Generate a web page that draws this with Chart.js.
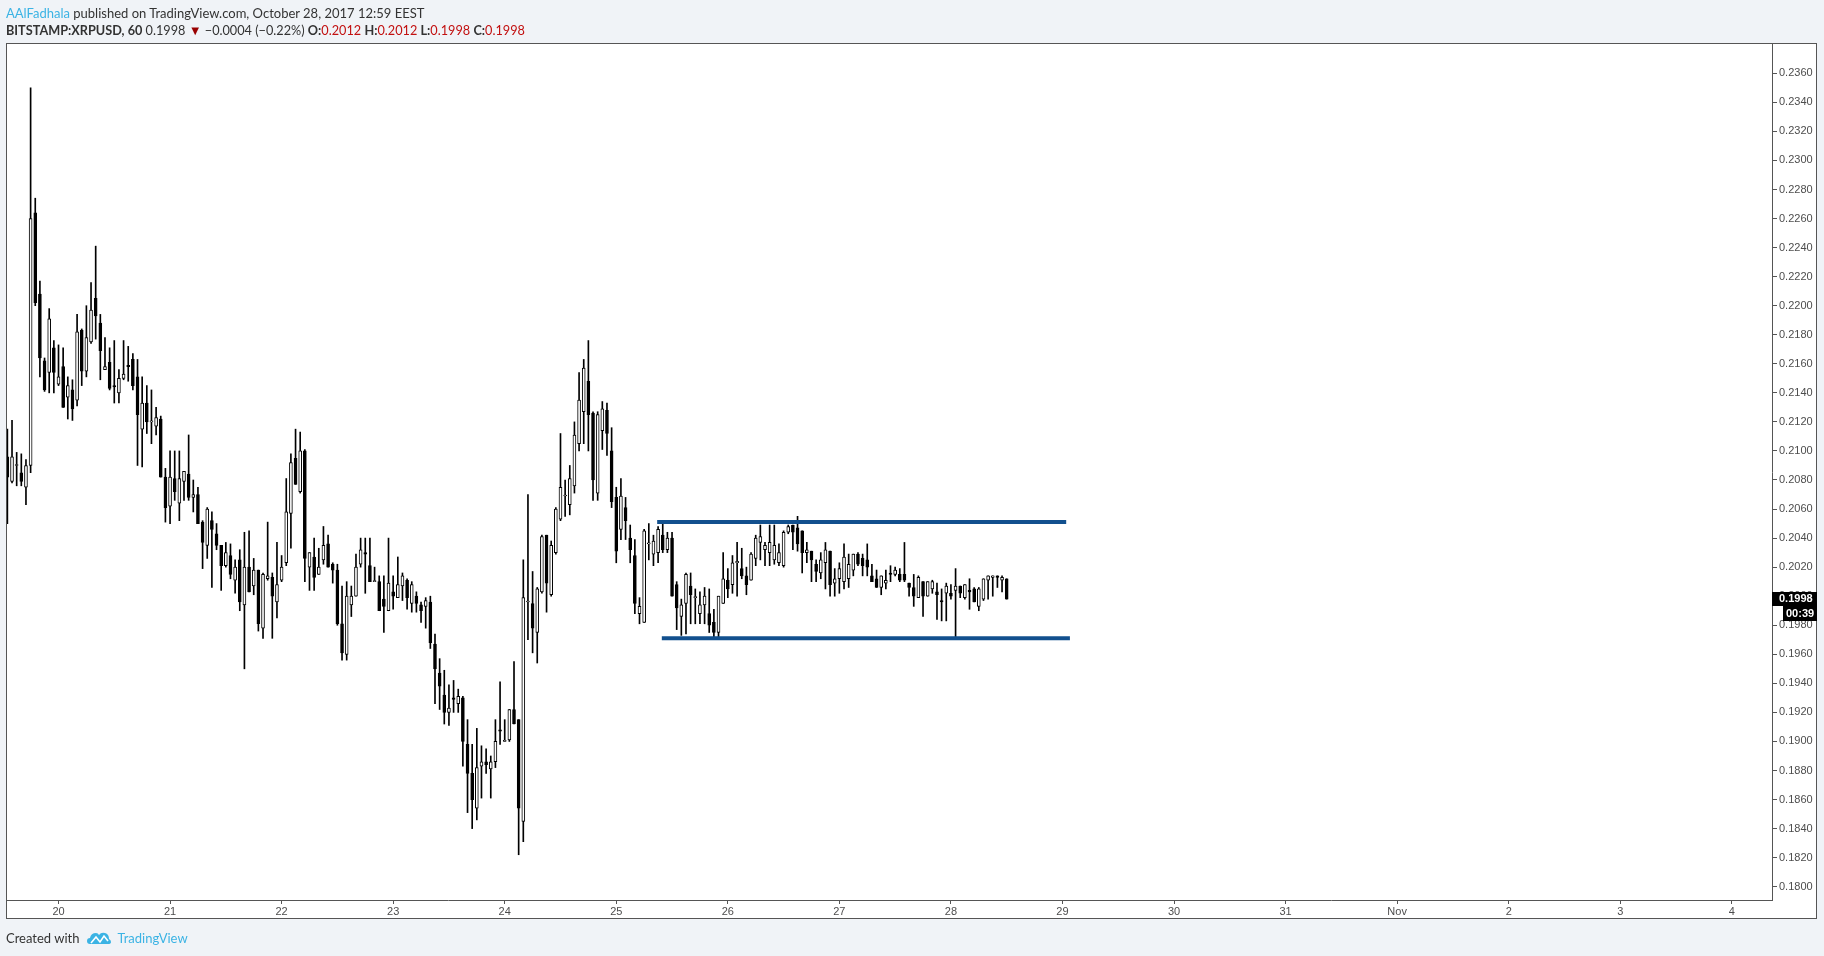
<!DOCTYPE html>
<html>
<head>
<meta charset="utf-8">
<script src="https://cdn.jsdelivr.net/npm/chart.js@4.4.0/dist/chart.umd.min.js"></script>
<style>
  html, body { margin: 0; padding: 0; background: #f0f3f7; }
  body { width: 1824px; height: 956px; position: relative; overflow: hidden; font-family: Lato, "Open Sans", sans-serif; }
  #chart { position: absolute; left: 0; top: 0; }
  .txt { position: absolute; left: 6px; font-size: 13px; line-height: 16px; color: #333; white-space: nowrap; }
  .blue { color: #3bb3e4; }
  .red { color: #c21010; }
  .tri { color: #990000; font-size: 13px; }
  #l1 { top: 5px; }
  #l2 { top: 22px; font-size: 12.7px; }
  #foot { top: 930px; display: flex; align-items: center; }
  #foot svg { margin: 0 6px 0 8px; }
</style>
</head>
<body>
<canvas id="chart" width="1824" height="956"></canvas>
<div class="txt" id="l1"><span class="blue">AAlFadhala</span> published on TradingView.com, October 28, 2017 12:59 EEST</div>
<div class="txt" id="l2"><b>BITSTAMP:XRPUSD, 60</b> 0.1998 <span class="tri">▼</span> −0.0004 (−0.22%) <b>O:</b><span class="red">0.2012</span> <b>H:</b><span class="red">0.2012</span> <b>L:</b><span class="red">0.1998</span> <b>C:</b><span class="red">0.1998</span></div>
<div class="txt" id="foot">Created with
  <svg width="24" height="15" viewBox="0 0 24 15">
    <path d="M3 13 Q0 13 0 10 Q0 7 3 7 Q4 2 9 2 Q11 2 12 4 Q14 1 18 2 Q22 3 22 8 Q24 9 24 11 Q24 13 21 13 Z" fill="#3bb3e4"/>
    <polyline points="4,12 9,6 13,11 17,5 21,10" fill="none" stroke="#fff" stroke-width="1.6"/>
  </svg>
  <span class="blue">TradingView</span></div>
<script>
// hourly candles, hour 0 = Oct 20 00:00
const firstHour = -11;

const open = [
  0.2096,0.2079,0.2090,0.2085,0.2075,0.2090,0.2264,0.2208,0.2162,0.2154,0.2171,0.2146,
  0.2158,0.2137,0.2142,0.2135,0.2183,0.2155,0.2175,0.2205,0.2188,0.2156,0.2161,0.2145,
  0.2140,0.2150,0.2159,0.2163,0.2151,0.2115,0.2133,0.2120,0.2117,0.2122,0.2082,0.2062,
  0.2081,0.2064,0.2079,0.2084,0.2068,0.2070,0.2051,0.2035,0.2052,0.2043,0.2035,0.2021,
  0.2028,0.2011,0.2025,0.1994,0.2020,0.2007,0.2018,0.1978,0.2012,0.2013,0.1996,0.2011,
  0.2023,0.2057,0.2095,0.2072,0.2100,0.2020,0.2027,0.2015,0.2025,0.2036,0.2022,0.2018,
  0.1981,0.1960,0.1994,0.2000,0.2022,0.2030,0.2021,0.2010,0.2010,0.1998,0.1990,0.2003,
  0.1999,0.2007,0.2011,0.1995,0.2000,0.1994,0.1993,0.1996,0.1967,0.1947,0.1932,0.1920,
  0.1930,0.1926,0.1930,0.1898,0.1878,0.1854,0.1883,0.1886,0.1881,0.1886,0.1908,0.1900,
  0.1901,0.1922,0.1915,0.1845,0.1996,0.1995,0.1975,0.2003,0.2042,0.2001,0.2030,0.2053,
  0.2069,0.2063,0.2076,0.2105,0.2127,0.2148,0.2126,0.2071,0.2114,0.2128,0.2100,0.2068,
  0.2046,0.2061,0.2040,0.2028,0.1988,0.1982,0.2036,0.2029,0.2030,0.2042,0.2032,0.2040,
  0.2008,0.1986,0.1995,0.2007,0.1999,0.1988,0.1994,0.1988,0.1982,0.1975,0.1995,0.2011,
  0.2008,0.2023,0.2019,0.2014,0.2011,0.2026,0.2037,0.2032,0.2030,0.2025,0.2023,0.2021,
  0.2044,0.2049,0.2047,0.2045,0.2030,0.2031,0.2022,0.2016,0.2023,0.2031,0.2009,0.2012,
  0.2010,0.2012,0.2018,0.2029,0.2026,0.2025,0.2014,0.2012,0.2006,0.2009,0.2016,0.2015,
  0.2015,0.2015,0.2009,0.2006,0.1999,0.2010,0.2000,0.2005,0.2003,0.1997,0.2002,0.2002,
  0.2004,0.2007,0.1999,0.2004,0.2005,0.1993,0.1998,0.2011,0.2013,0.2014,0.2011,0.2012
];
const high = [
  0.2115,0.2121,0.2099,0.2098,0.2094,0.2350,0.2274,0.2217,0.2164,0.2198,0.2176,0.2173,
  0.2171,0.2151,0.2149,0.2194,0.2184,0.2200,0.2216,0.2241,0.2194,0.2178,0.2171,0.2176,
  0.2156,0.2176,0.2172,0.2167,0.2163,0.2151,0.2145,0.2142,0.2130,0.2124,0.2088,0.2100,
  0.2100,0.2100,0.2086,0.2111,0.2080,0.2075,0.2052,0.2061,0.2058,0.2050,0.2035,0.2037,
  0.2036,0.2025,0.2032,0.2044,0.2045,0.2026,0.2018,0.2016,0.2051,0.2016,0.2037,0.2028,
  0.2081,0.2098,0.2115,0.2113,0.2101,0.2030,0.2040,0.2033,0.2048,0.2042,0.2023,0.2022,
  0.2007,0.2010,0.2007,0.2029,0.2040,0.2040,0.2040,0.2020,0.2014,0.2014,0.2040,0.2014,
  0.2027,0.2016,0.2012,0.2010,0.2003,0.1996,0.1999,0.2000,0.1974,0.1957,0.1949,0.1939,
  0.1942,0.1936,0.1931,0.1915,0.1898,0.1909,0.1897,0.1895,0.1890,0.1915,0.1941,0.1915,
  0.1922,0.1955,0.1915,0.2025,0.2070,0.2017,0.2006,0.2042,0.2042,0.2038,0.2061,0.2112,
  0.2080,0.2090,0.2120,0.2154,0.2163,0.2176,0.2127,0.2127,0.2134,0.2133,0.2116,0.2075,
  0.2081,0.2068,0.2049,0.2039,0.1999,0.2046,0.2050,0.2042,0.2048,0.2050,0.2044,0.2044,
  0.2010,0.1998,0.2016,0.2016,0.2005,0.2003,0.2006,0.2005,0.1991,0.2000,0.2030,0.2019,
  0.2028,0.2037,0.2033,0.2020,0.2030,0.2042,0.2049,0.2037,0.2049,0.2049,0.2036,0.2045,
  0.2049,0.2049,0.2055,0.2045,0.2037,0.2031,0.2025,0.2030,0.2037,0.2031,0.2019,0.2023,
  0.2036,0.2029,0.2029,0.2030,0.2029,0.2036,0.2022,0.2018,0.2014,0.2018,0.2021,0.2020,
  0.2019,0.2037,0.2009,0.2015,0.2014,0.2010,0.2010,0.2011,0.2009,0.2005,0.2009,0.2008,
  0.2019,0.2007,0.2008,0.2012,0.2006,0.2006,0.2012,0.2014,0.2014,0.2014,0.2014,0.2012
];
const low = [
  0.2050,0.2078,0.2076,0.2076,0.2063,0.2085,0.2200,0.2151,0.2141,0.2140,0.2140,0.2145,
  0.2130,0.2122,0.2121,0.2131,0.2145,0.2151,0.2174,0.2177,0.2149,0.2156,0.2142,0.2133,
  0.2133,0.2149,0.2148,0.2142,0.2090,0.2089,0.2112,0.2105,0.2111,0.2082,0.2051,0.2050,
  0.2066,0.2052,0.2066,0.2066,0.2058,0.2050,0.2019,0.2026,0.2006,0.2032,0.2004,0.2020,
  0.2012,0.2002,0.1990,0.1950,0.2003,0.2001,0.1976,0.1971,0.2011,0.1971,0.1985,0.2010,
  0.2021,0.2033,0.2077,0.2071,0.2010,0.2004,0.2004,0.2015,0.2022,0.2020,0.2009,0.1980,
  0.1956,0.1956,0.1986,0.2000,0.2020,0.2002,0.2010,0.2010,0.1990,0.1975,0.1990,0.1991,
  0.1999,0.1997,0.1991,0.1989,0.1989,0.1982,0.1978,0.1964,0.1926,0.1922,0.1912,0.1911,
  0.1920,0.1920,0.1883,0.1851,0.1840,0.1846,0.1861,0.1878,0.1861,0.1882,0.1898,0.1900,
  0.1900,0.1912,0.1822,0.1831,0.1970,0.1961,0.1954,0.2002,0.1989,0.2000,0.2029,0.2052,
  0.2055,0.2056,0.2071,0.2100,0.2105,0.2100,0.2066,0.2066,0.2101,0.2097,0.2061,0.2023,
  0.2039,0.2039,0.2023,0.1988,0.1981,0.1982,0.2025,0.2021,0.2023,0.2030,0.2030,0.2000,
  0.1977,0.1973,0.1974,0.1981,0.1981,0.1981,0.1981,0.1975,0.1972,0.1972,0.1995,0.1999,
  0.2002,0.2000,0.2012,0.2001,0.2011,0.2021,0.2025,0.2021,0.2021,0.2022,0.2021,0.2020,
  0.2043,0.2032,0.2031,0.2016,0.2023,0.2010,0.2010,0.2012,0.2005,0.2000,0.2000,0.2002,
  0.2005,0.2006,0.2014,0.2021,0.2014,0.2014,0.2010,0.2006,0.2001,0.2005,0.2010,0.2014,
  0.2010,0.2010,0.2000,0.1993,0.1999,0.1986,0.2000,0.2002,0.1984,0.1983,0.1983,0.1998,
  0.1972,0.1999,0.1998,0.1991,0.1996,0.1990,0.1997,0.1998,0.2000,0.2006,0.2003,0.1998
];
const close = [
  0.2082,0.2096,0.2090,0.2079,0.2090,0.2260,0.2202,0.2164,0.2142,0.2191,0.2154,0.2151,
  0.2130,0.2145,0.2129,0.2182,0.2155,0.2178,0.2197,0.2193,0.2169,0.2158,0.2143,0.2144,
  0.2150,0.2153,0.2158,0.2145,0.2125,0.2133,0.2120,0.2120,0.2123,0.2082,0.2061,0.2082,
  0.2072,0.2081,0.2086,0.2068,0.2070,0.2050,0.2037,0.2060,0.2046,0.2035,0.2021,0.2030,
  0.2015,0.2020,0.1996,0.2020,0.2003,0.2018,0.1981,0.2015,0.2014,0.2000,0.2008,0.2020,
  0.2058,0.2092,0.2077,0.2100,0.2026,0.2030,0.2013,0.2020,0.2035,0.2020,0.2018,0.1981,
  0.1961,0.2000,0.2000,0.2020,0.2032,0.2029,0.2010,0.2010,0.1990,0.1993,0.2009,0.2000,
  0.2008,0.2014,0.1999,0.2008,0.1995,0.1990,0.1997,0.1968,0.1950,0.1938,0.1920,0.1923,
  0.1929,0.1931,0.1900,0.1878,0.1860,0.1882,0.1886,0.1884,0.1886,0.1900,0.1907,0.1900,
  0.1922,0.1912,0.1854,0.1999,0.1996,0.1978,0.2005,0.2041,0.2009,0.2035,0.2060,0.2075,
  0.2069,0.2081,0.2111,0.2135,0.2157,0.2125,0.2080,0.2125,0.2129,0.2112,0.2065,0.2031,
  0.2069,0.2052,0.2032,0.1995,0.1993,0.2045,0.2036,0.2038,0.2046,0.2032,0.2040,0.2000,
  0.1992,0.1994,0.2015,0.2001,0.1999,0.1994,0.2000,0.1980,0.1975,0.2000,0.2012,0.2005,
  0.2023,0.2024,0.2014,0.2008,0.2029,0.2040,0.2041,0.2035,0.2037,0.2035,0.2030,0.2044,
  0.2048,0.2044,0.2036,0.2030,0.2032,0.2025,0.2017,0.2025,0.2032,0.2008,0.2012,0.2019,
  0.2027,0.2022,0.2029,0.2022,0.2021,0.2020,0.2010,0.2006,0.2014,0.2011,0.2015,0.2018,
  0.2011,0.2011,0.2006,0.2000,0.2013,0.2000,0.2010,0.2010,0.2001,0.1996,0.2007,0.2000,
  0.2007,0.2002,0.2008,0.2003,0.1996,0.2005,0.2012,0.2014,0.2014,0.2013,0.2013,0.1998
];

const dayLabels = ["20","21","22","23","24","25","26","27","28","29","30","31","Nov","2","3","4"];
const priceTicks = [
  0.1800,0.1820,0.1840,0.1860,0.1880,0.1900,0.1920,0.1940,0.1960,0.1980,
  0.2000,0.2020,0.2040,0.2060,0.2080,0.2100,0.2120,0.2140,0.2160,0.2180,
  0.2200,0.2220,0.2240,0.2260,0.2280,0.2300,0.2320,0.2340,0.2360
];

// drawn channel (hour, price)
const channelTop = [[128.8, 0.2051], [216.8, 0.2051]];
const channelBottom = [[129.8, 0.1971], [217.6, 0.1971]];
const countdown = "00:39";

const hours = open.map((_, i) => firstHour + i);
const isUp = i => close[i] >= open[i];

const frame = {
  id: "frame",
  beforeDraw(chart) {
    const ctx = chart.ctx;
    ctx.save();
    ctx.fillStyle = "#fff";
    ctx.fillRect(6, 43, 1811, 876);
    ctx.restore();
  },
  afterDraw(chart) {
    const ctx = chart.ctx;
    const y = chart.scales.y.getPixelForValue(close[close.length - 1]);
    ctx.save();
    ctx.strokeStyle = "#555";
    ctx.lineWidth = 1;
    ctx.strokeRect(6.5, 43.5, 1810, 875);
    ctx.fillStyle = "#000";
    ctx.fillRect(1772, Math.round(y) - 7, 45, 14);
    ctx.fillRect(1783, Math.round(y) + 7, 34, 15);
    ctx.fillStyle = "#fff";
    ctx.font = "bold 11px 'Liberation Sans', Arial, sans-serif";
    ctx.textBaseline = "middle";
    ctx.fillText(close[close.length - 1].toFixed(4), 1779, Math.round(y));
    ctx.fillText(countdown, 1786, Math.round(y) + 15);
    ctx.restore();
  }
};

const tickFont = { family: "'Liberation Sans', Arial, sans-serif", size: 11 };

new Chart(document.getElementById("chart"), {
  data: {
    datasets: [
      {
        type: "bar",
        data: hours.map((h, i) => ({ x: h, y: [low[i], high[i]] })),
        backgroundColor: "#000",
        barThickness: 1,
        minBarLength: 1,
        grouped: false,
        order: 2,
        clip: 0,
      },
      {
        type: "bar",
        data: hours.map((h, i) => ({ x: h, y: [Math.min(open[i], close[i]), Math.max(open[i], close[i])] })),
        backgroundColor: c => (isUp(c.dataIndex) ? "#fff" : "#000"),
        borderColor: "#000",
        borderWidth: 1,
        borderSkipped: false,
        barThickness: 3,
        minBarLength: 1,
        grouped: false,
        order: 1,
        clip: 0,
      },
      {
        type: "line",
        data: channelTop.map(p => ({ x: p[0], y: p[1] })),
        borderColor: "#12508e",
        borderWidth: 4,
        pointRadius: 0,
        order: 0,
        clip: 0,
      },
      {
        type: "line",
        data: channelBottom.map(p => ({ x: p[0], y: p[1] })),
        borderColor: "#12508e",
        borderWidth: 4,
        pointRadius: 0,
        order: 0,
        clip: 0,
      },
    ],
  },
  options: {
    responsive: false,
    animation: false,
    events: [],
    layout: { padding: { left: 7, top: 44, right: 7, bottom: 37 } },
    scales: {
      x: {
        type: "linear",
        position: "bottom",
        min: -11.08,
        max: 368.65,
        offset: false,
        grid: { drawOnChartArea: false, tickLength: 4, color: "#555", offset: false },
        border: { display: true, color: "#555" },
        ticks: {
          autoSkip: false,
          maxRotation: 0,
          padding: 1,
          color: "#4d4d4d",
          font: tickFont,
          callback: v => dayLabels[Math.round(v / 24)],
        },
        afterBuildTicks: axis => {
          axis.ticks = dayLabels.map((_, i) => ({ value: i * 24 }));
        },
        afterFit: axis => {
          axis.height = 19;
        },
      },
      y: {
        type: "linear",
        position: "right",
        min: 0.179084,
        max: 0.238017,
        grid: { drawOnChartArea: false, tickLength: 5, color: "#555" },
        border: { display: true, color: "#555" },
        ticks: {
          autoSkip: false,
          padding: 2,
          color: "#4d4d4d",
          font: tickFont,
          callback: v => v.toFixed(4),
        },
        afterBuildTicks: axis => {
          axis.ticks = priceTicks.map(v => ({ value: v }));
        },
        afterFit: axis => {
          axis.width = 45;
        },
      },
    },
    plugins: {
      legend: { display: false },
      tooltip: { enabled: false },
    },
  },
  plugins: [frame],
});
</script>
</body>
</html>
